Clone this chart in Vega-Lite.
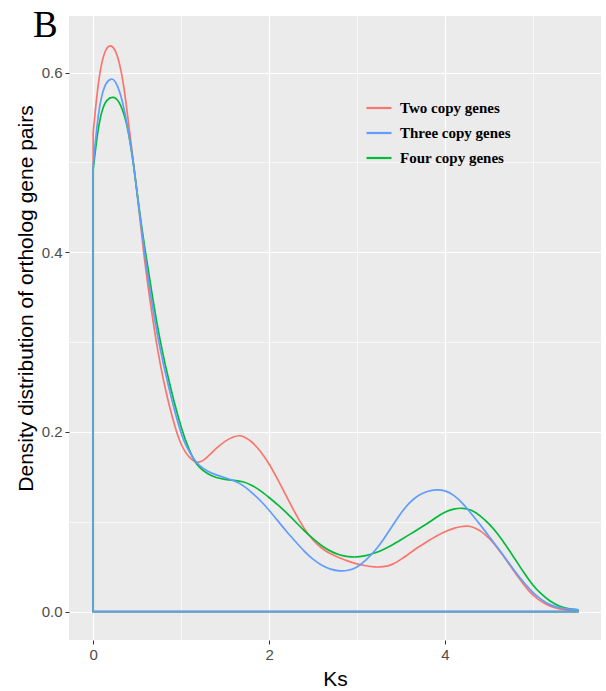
{
  "$schema": "https://vega.github.io/schema/vega-lite/v6.json",
  "autosize": {"type": "none"},
  "padding": {"left": 69, "top": 16, "right": 5, "bottom": 51},
  "width": 532,
  "height": 624,
  "background": "white",
  "title": {"text": "B", "anchor": "start", "frame": "group", "font": "Liberation Serif", "fontSize": 37, "fontWeight": "normal", "color": "black", "baseline": "alphabetic", "offset": 0, "dx": -36, "dy": 58},
  "config": {
    "view": {"fill": "#EBEBEB", "stroke": null},
    "axis": {"domain": false, "labelFont": "Liberation Sans", "labelFontSize": 15, "labelColor": "#4D4D4D", "tickColor": "#333333", "tickSize": 4, "tickWidth": 1, "gridColor": "white", "titleFont": "Liberation Sans", "titleFontSize": 21, "titleFontWeight": "normal", "titleColor": "black"}
  },
  "data": {"values": [
    {"g":"Two copy genes","ks":0,"d":0.533},{"g":"Two copy genes","ks":0.05,"d":0.584},{"g":"Two copy genes","ks":0.1,"d":0.614},{"g":"Two copy genes","ks":0.15,"d":0.628},{"g":"Two copy genes","ks":0.2,"d":0.631},{"g":"Two copy genes","ks":0.25,"d":0.626},{"g":"Two copy genes","ks":0.3,"d":0.611},{"g":"Two copy genes","ks":0.35,"d":0.585},{"g":"Two copy genes","ks":0.394,"d":0.55},{"g":"Two copy genes","ks":0.458,"d":0.5},{"g":"Two copy genes","ks":0.519,"d":0.45},{"g":"Two copy genes","ks":0.572,"d":0.4},{"g":"Two copy genes","ks":0.64,"d":0.35},{"g":"Two copy genes","ks":0.716,"d":0.3},{"g":"Two copy genes","ks":0.81,"d":0.25},{"g":"Two copy genes","ks":0.943,"d":0.2},{"g":"Two copy genes","ks":1.0,"d":0.186},{"g":"Two copy genes","ks":1.05,"d":0.177},{"g":"Two copy genes","ks":1.1,"d":0.171},{"g":"Two copy genes","ks":1.15,"d":0.167},{"g":"Two copy genes","ks":1.2,"d":0.166},{"g":"Two copy genes","ks":1.25,"d":0.168},{"g":"Two copy genes","ks":1.3,"d":0.172},{"g":"Two copy genes","ks":1.4,"d":0.182},{"g":"Two copy genes","ks":1.5,"d":0.19},{"g":"Two copy genes","ks":1.6,"d":0.195},{"g":"Two copy genes","ks":1.66,"d":0.196},{"g":"Two copy genes","ks":1.7,"d":0.1955},{"g":"Two copy genes","ks":1.8,"d":0.19},{"g":"Two copy genes","ks":1.9,"d":0.179},{"g":"Two copy genes","ks":2.0,"d":0.165},{"g":"Two copy genes","ks":2.1,"d":0.147},{"g":"Two copy genes","ks":2.2,"d":0.128},{"g":"Two copy genes","ks":2.3,"d":0.109},{"g":"Two copy genes","ks":2.4,"d":0.092},{"g":"Two copy genes","ks":2.5,"d":0.079},{"g":"Two copy genes","ks":2.6,"d":0.07},{"g":"Two copy genes","ks":2.7,"d":0.064},{"g":"Two copy genes","ks":2.8,"d":0.06},{"g":"Two copy genes","ks":2.9,"d":0.056},{"g":"Two copy genes","ks":3.0,"d":0.053},{"g":"Two copy genes","ks":3.1,"d":0.051},{"g":"Two copy genes","ks":3.2,"d":0.0495},{"g":"Two copy genes","ks":3.3,"d":0.0497},{"g":"Two copy genes","ks":3.4,"d":0.052},{"g":"Two copy genes","ks":3.5,"d":0.058},{"g":"Two copy genes","ks":3.6,"d":0.065},{"g":"Two copy genes","ks":3.7,"d":0.072},{"g":"Two copy genes","ks":3.8,"d":0.078},{"g":"Two copy genes","ks":3.9,"d":0.084},{"g":"Two copy genes","ks":4.0,"d":0.089},{"g":"Two copy genes","ks":4.1,"d":0.093},{"g":"Two copy genes","ks":4.2,"d":0.095},{"g":"Two copy genes","ks":4.27,"d":0.0955},{"g":"Two copy genes","ks":4.35,"d":0.093},{"g":"Two copy genes","ks":4.45,"d":0.087},{"g":"Two copy genes","ks":4.55,"d":0.077},{"g":"Two copy genes","ks":4.65,"d":0.064},{"g":"Two copy genes","ks":4.75,"d":0.05},{"g":"Two copy genes","ks":4.85,"d":0.036},{"g":"Two copy genes","ks":4.95,"d":0.023},{"g":"Two copy genes","ks":5.05,"d":0.014},{"g":"Two copy genes","ks":5.15,"d":0.008},{"g":"Two copy genes","ks":5.25,"d":0.004},{"g":"Two copy genes","ks":5.35,"d":0.002},{"g":"Two copy genes","ks":5.51,"d":0.001},
    {"g":"Four copy genes","ks":0,"d":0.492},{"g":"Four copy genes","ks":0.05,"d":0.535},{"g":"Four copy genes","ks":0.1,"d":0.559},{"g":"Four copy genes","ks":0.15,"d":0.57},{"g":"Four copy genes","ks":0.23,"d":0.574},{"g":"Four copy genes","ks":0.3,"d":0.568},{"g":"Four copy genes","ks":0.364,"d":0.55},{"g":"Four copy genes","ks":0.4,"d":0.535},{"g":"Four copy genes","ks":0.458,"d":0.5},{"g":"Four copy genes","ks":0.519,"d":0.45},{"g":"Four copy genes","ks":0.594,"d":0.4},{"g":"Four copy genes","ks":0.674,"d":0.35},{"g":"Four copy genes","ks":0.761,"d":0.3},{"g":"Four copy genes","ks":0.875,"d":0.25},{"g":"Four copy genes","ks":1.011,"d":0.2},{"g":"Four copy genes","ks":1.1,"d":0.178},{"g":"Four copy genes","ks":1.15,"d":0.168},{"g":"Four copy genes","ks":1.2,"d":0.161},{"g":"Four copy genes","ks":1.3,"d":0.153},{"g":"Four copy genes","ks":1.4,"d":0.149},{"g":"Four copy genes","ks":1.5,"d":0.147},{"g":"Four copy genes","ks":1.6,"d":0.146},{"g":"Four copy genes","ks":1.7,"d":0.145},{"g":"Four copy genes","ks":1.8,"d":0.141},{"g":"Four copy genes","ks":1.9,"d":0.135},{"g":"Four copy genes","ks":2.0,"d":0.127},{"g":"Four copy genes","ks":2.1,"d":0.119},{"g":"Four copy genes","ks":2.2,"d":0.11},{"g":"Four copy genes","ks":2.3,"d":0.1},{"g":"Four copy genes","ks":2.4,"d":0.09},{"g":"Four copy genes","ks":2.5,"d":0.081},{"g":"Four copy genes","ks":2.6,"d":0.073},{"g":"Four copy genes","ks":2.7,"d":0.067},{"g":"Four copy genes","ks":2.8,"d":0.063},{"g":"Four copy genes","ks":2.9,"d":0.061},{"g":"Four copy genes","ks":3.0,"d":0.0605},{"g":"Four copy genes","ks":3.1,"d":0.062},{"g":"Four copy genes","ks":3.2,"d":0.065},{"g":"Four copy genes","ks":3.3,"d":0.069},{"g":"Four copy genes","ks":3.4,"d":0.074},{"g":"Four copy genes","ks":3.5,"d":0.08},{"g":"Four copy genes","ks":3.6,"d":0.086},{"g":"Four copy genes","ks":3.7,"d":0.092},{"g":"Four copy genes","ks":3.8,"d":0.098},{"g":"Four copy genes","ks":3.9,"d":0.105},{"g":"Four copy genes","ks":4.0,"d":0.111},{"g":"Four copy genes","ks":4.1,"d":0.1145},{"g":"Four copy genes","ks":4.2,"d":0.1155},{"g":"Four copy genes","ks":4.3,"d":0.1135},{"g":"Four copy genes","ks":4.4,"d":0.107},{"g":"Four copy genes","ks":4.5,"d":0.098},{"g":"Four copy genes","ks":4.6,"d":0.087},{"g":"Four copy genes","ks":4.7,"d":0.073},{"g":"Four copy genes","ks":4.8,"d":0.058},{"g":"Four copy genes","ks":4.9,"d":0.043},{"g":"Four copy genes","ks":5.0,"d":0.029},{"g":"Four copy genes","ks":5.1,"d":0.019},{"g":"Four copy genes","ks":5.2,"d":0.011},{"g":"Four copy genes","ks":5.3,"d":0.006},{"g":"Four copy genes","ks":5.4,"d":0.003},{"g":"Four copy genes","ks":5.51,"d":0.002},
    {"g":"Three copy genes","ks":0,"d":0.496},{"g":"Three copy genes","ks":0.05,"d":0.55},{"g":"Three copy genes","ks":0.1,"d":0.577},{"g":"Three copy genes","ks":0.15,"d":0.59},{"g":"Three copy genes","ks":0.21,"d":0.594},{"g":"Three copy genes","ks":0.25,"d":0.591},{"g":"Three copy genes","ks":0.3,"d":0.58},{"g":"Three copy genes","ks":0.35,"d":0.561},{"g":"Three copy genes","ks":0.4,"d":0.535},{"g":"Three copy genes","ks":0.458,"d":0.5},{"g":"Three copy genes","ks":0.519,"d":0.45},{"g":"Three copy genes","ks":0.583,"d":0.4},{"g":"Three copy genes","ks":0.656,"d":0.35},{"g":"Three copy genes","ks":0.742,"d":0.3},{"g":"Three copy genes","ks":0.856,"d":0.25},{"g":"Three copy genes","ks":0.989,"d":0.2},{"g":"Three copy genes","ks":1.05,"d":0.186},{"g":"Three copy genes","ks":1.1,"d":0.177},{"g":"Three copy genes","ks":1.15,"d":0.169},{"g":"Three copy genes","ks":1.2,"d":0.163},{"g":"Three copy genes","ks":1.3,"d":0.156},{"g":"Three copy genes","ks":1.4,"d":0.152},{"g":"Three copy genes","ks":1.5,"d":0.149},{"g":"Three copy genes","ks":1.6,"d":0.146},{"g":"Three copy genes","ks":1.7,"d":0.141},{"g":"Three copy genes","ks":1.8,"d":0.133},{"g":"Three copy genes","ks":1.9,"d":0.124},{"g":"Three copy genes","ks":2.0,"d":0.113},{"g":"Three copy genes","ks":2.1,"d":0.101},{"g":"Three copy genes","ks":2.2,"d":0.089},{"g":"Three copy genes","ks":2.3,"d":0.078},{"g":"Three copy genes","ks":2.4,"d":0.067},{"g":"Three copy genes","ks":2.5,"d":0.058},{"g":"Three copy genes","ks":2.6,"d":0.051},{"g":"Three copy genes","ks":2.7,"d":0.047},{"g":"Three copy genes","ks":2.8,"d":0.045},{"g":"Three copy genes","ks":2.9,"d":0.0455},{"g":"Three copy genes","ks":3.0,"d":0.049},{"g":"Three copy genes","ks":3.1,"d":0.057},{"g":"Three copy genes","ks":3.2,"d":0.067},{"g":"Three copy genes","ks":3.3,"d":0.08},{"g":"Three copy genes","ks":3.4,"d":0.095},{"g":"Three copy genes","ks":3.5,"d":0.11},{"g":"Three copy genes","ks":3.6,"d":0.122},{"g":"Three copy genes","ks":3.7,"d":0.13},{"g":"Three copy genes","ks":3.8,"d":0.134},{"g":"Three copy genes","ks":3.9,"d":0.136},{"g":"Three copy genes","ks":4.0,"d":0.135},{"g":"Three copy genes","ks":4.1,"d":0.13},{"g":"Three copy genes","ks":4.2,"d":0.121},{"g":"Three copy genes","ks":4.3,"d":0.109},{"g":"Three copy genes","ks":4.4,"d":0.097},{"g":"Three copy genes","ks":4.5,"d":0.084},{"g":"Three copy genes","ks":4.6,"d":0.071},{"g":"Three copy genes","ks":4.7,"d":0.058},{"g":"Three copy genes","ks":4.8,"d":0.044},{"g":"Three copy genes","ks":4.9,"d":0.032},{"g":"Three copy genes","ks":5.0,"d":0.021},{"g":"Three copy genes","ks":5.1,"d":0.013},{"g":"Three copy genes","ks":5.2,"d":0.007},{"g":"Three copy genes","ks":5.3,"d":0.004},{"g":"Three copy genes","ks":5.4,"d":0.003},{"g":"Three copy genes","ks":5.51,"d":0.002}
  ]},
  "mark": {"type": "area", "fill": "transparent", "strokeWidth": 1.7, "interpolate": "basis"},
  "encoding": {
    "x": {"field": "ks", "type": "quantitative", "title": "Ks",
      "scale": {"domain": [-0.275, 5.775], "nice": false, "zero": false},
      "axis": {"values": [0, 1, 2, 3, 4, 5], "format": "d", "labelPadding": 3, "titlePadding": 6,
        "labelExpr": "datum.value % 2 === 0 ? datum.label : ''",
        "gridWidth": {"condition": {"test": "datum.value % 2 === 1", "value": 0.6}, "value": 1.2},
        "tickOpacity": {"condition": {"test": "datum.value % 2 === 1", "value": 0}, "value": 1}}},
    "y": {"field": "d", "type": "quantitative", "title": "Density distribution of ortholog gene pairs", "stack": null,
      "scale": {"domain": [-0.0316, 0.663], "nice": false, "zero": false},
      "axis": {"values": [0, 0.1, 0.2, 0.3, 0.4, 0.5, 0.6], "format": ".1f", "labelPadding": 3, "titlePadding": 5, "titleY": 282,
        "labelExpr": "round(datum.value * 10) % 2 === 0 ? datum.label : ''",
        "gridWidth": {"condition": {"test": "round(datum.value * 10) % 2 === 1", "value": 0.6}, "value": 1.2},
        "tickOpacity": {"condition": {"test": "round(datum.value * 10) % 2 === 1", "value": 0}, "value": 1}}},
    "stroke": {"field": "g", "type": "nominal",
      "scale": {"domain": ["Two copy genes", "Three copy genes", "Four copy genes"], "range": ["#F8766D", "#619CFF", "#00BA38"]},
      "legend": {"title": null, "orient": "none", "legendX": 296, "legendY": 78, "padding": 0, "symbolType": "stroke", "symbolSize": 625, "symbolStrokeWidth": 2.2, "rowPadding": 3, "labelOffset": 7, "labelFont": "Liberation Serif", "labelFontSize": 15, "labelFontWeight": "bold", "labelColor": "black",
        "encode": {"symbols": {"update": {"stroke": {"signal": "datum.value === 'Two copy genes' ? '#EE2A2A' : datum.value === 'Three copy genes' ? '#2E6AD1' : '#22A85A'"}}}}}}
  }
}
